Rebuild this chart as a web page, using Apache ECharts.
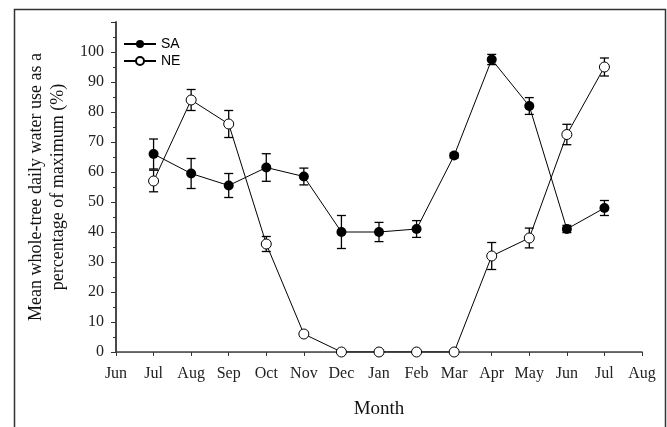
<!DOCTYPE html>
<html><head><meta charset="utf-8">
<script src="https://cdn.jsdelivr.net/npm/echarts@6/dist/echarts.min.js"></script>
<style>html,body{margin:0;padding:0;background:#fff}#c{width:667px;height:427px}</style>
</head><body><div id="c"></div>
<script>
const months = ['Jun','Jul','Aug','Sep','Oct','Nov','Dec','Jan','Feb','Mar','Apr','May','Jun','Jul','Aug'];
const xPos = [1,2,3,4,5,6,7,8,9,10,11,12,13];
const saMean = [66, 59.5, 55.5, 61.5, 58.5, 40, 40, 41, 65.5, 97.5, 82, 41, 48];
const saErr  = [5, 5, 4, 4.6, 2.8, 5.5, 3.2, 2.8, 0.8, 1.7, 2.8, 1.2, 2.5];
const neMean = [57, 84, 76, 36, 6, 0, 0, 0, 0, 32, 38, 72.5, 95];
const neErr  = [3.6, 3.5, 4.5, 2.5, 0.6, 0, 0, 0, 0, 4.5, 3.3, 3.4, 3];
const yTicks = [0,10,20,30,40,50,60,70,80,90,100];

const chart = echarts.init(document.getElementById('c'));
const pts = (m) => xPos.map((x,i)=>[x,m[i]]);
const errData = (m,e) => xPos.map((x,i)=>[x,m[i]-e[i],m[i]+e[i]]);
function errRender(params, api){
  const x = api.value(0), lo = api.value(1), hi = api.value(2);
  if (hi - lo < 0.5) return null;
  const p1 = api.coord([x, hi]), p2 = api.coord([x, lo]);
  const w = 4.5;
  const st = {stroke:'#000', lineWidth:1.3};
  return {type:'group', children:[
    {type:'line', shape:{x1:p1[0],y1:p1[1],x2:p2[0],y2:p2[1]}, style:st},
    {type:'line', shape:{x1:p1[0]-w,y1:p1[1],x2:p1[0]+w,y2:p1[1]}, style:st},
    {type:'line', shape:{x1:p2[0]-w,y1:p2[1],x2:p2[0]+w,y2:p2[1]}, style:st}
  ]};
}
const serif = 'Liberation Serif';
chart.setOption({
  animation:false,
  graphic:[{type:'rect', left:12, top:7, shape:{width:651, height:425}, style:{fill:'none', stroke:'#333', lineWidth:1.5}, silent:true}],
  grid:{left:116, right:25, top:22, bottom:75},
  legend:{orient:'vertical', left:123, top:37, padding:0, itemWidth:32, itemHeight:10, itemGap:3,
    textStyle:{fontFamily:'Liberation Sans', fontSize:14, color:'#000'},
    data:['SA','NE']},
  xAxis:[{type:'value', min:0, max:14, interval:1,
    axisLine:{lineStyle:{color:'#bbb', width:1}},
    axisTick:{show:true, length:4, lineStyle:{color:'#333'}},
    axisLabel:{formatter:(v)=>months[v]||'', fontFamily:serif, fontSize:16, color:'#222', margin:14},
    splitLine:{show:false},
    name:'Month', nameLocation:'middle', nameGap:48,
    nameTextStyle:{fontFamily:serif, fontSize:19, color:'#111'}},
   {type:'value', position:'top', min:0, max:14, axisLine:{show:true, lineStyle:{color:'#444', width:1.5}},
    axisTick:{show:false}, axisLabel:{show:false}, splitLine:{show:false}}],
  yAxis:[{type:'value', min:0, max:110, interval:10,
    axisLine:{show:true, lineStyle:{color:'#222', width:1.5}},
    axisTick:{show:true, length:5, lineStyle:{color:'#333'}},
    minorTick:{show:true, splitNumber:2, length:3, lineStyle:{color:'#333'}},
    axisLabel:{formatter:(v)=>yTicks.includes(v)?String(v):'', fontFamily:serif, fontSize:16, color:'#222', margin:12},
    splitLine:{show:false},
    name:'Mean whole-tree daily water use as a\npercentage of maximum (%)', nameLocation:'middle', nameGap:47,
    nameTextStyle:{fontFamily:serif, fontSize:18, color:'#111', lineHeight:22}},
   {type:'value', position:'right', min:0, max:110, axisLine:{show:true, lineStyle:{color:'#444', width:1.5}},
    axisTick:{show:false}, axisLabel:{show:false}, splitLine:{show:false}}],
  series:[
    {type:'custom', renderItem:errRender, data:errData(saMean,saErr), z:3, silent:true},
    {type:'custom', renderItem:errRender, data:errData(neMean,neErr), z:3, silent:true},
    {name:'SA', type:'line', data:pts(saMean), symbol:'circle', symbolSize:10, z:5,
      itemStyle:{color:'#000'}, lineStyle:{color:'#000', width:1}},
    {name:'NE', type:'line', data:pts(neMean), symbol:'circle', symbolSize:10, z:6,
      itemStyle:{color:'#fff', borderColor:'#000', borderWidth:1}, lineStyle:{color:'#000', width:1}}
  ]
});
</script></body></html>
